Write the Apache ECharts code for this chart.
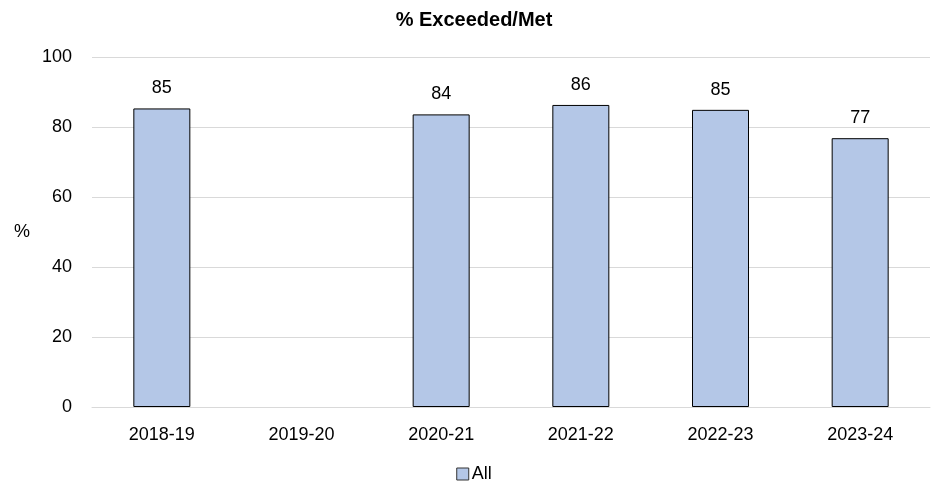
<!DOCTYPE html>
<html>
<head>
<meta charset="utf-8">
<script src="https://cdn.jsdelivr.net/npm/echarts@6/dist/echarts.min.js"></script>
<style>
    html, body { margin: 0; padding: 0; background: #fff; }
    #chart { width: 948px; height: 490px; }
</style>
</head>
<body>
<div id="chart"></div>
<script>
    // school years on the x axis
    const years = ['2018-19', '2019-20', '2020-21', '2021-22', '2022-23', '2023-24'];
    // % exceeded/met, no data for 2019-20
    const allValues = [85.3, null, 83.6, 86.3, 84.9, 76.8];
    const yTicks = [0, 20, 40, 60, 80, 100];

    const font = 'Liberation Sans, Arial, sans-serif';
    const chart = echarts.init(document.getElementById('chart'));
    chart.setOption({
        animation: false,
        title: {
            text: '% Exceeded/Met',
            left: 'center',
            top: 5,
            textStyle: { fontFamily: font, fontSize: 20, fontWeight: 'bold', color: '#000' }
        },
        legend: {
            bottom: 2,
            left: 'center',
            itemWidth: 12,
            itemHeight: 12,
            itemGap: 4,
            icon: 'rect',
            itemStyle: { borderColor: '#333', borderWidth: 1 },
            textStyle: { fontFamily: font, fontSize: 18, color: '#000', padding: [0, 0, 0, -2] },
            data: ['All']
        },
        grid: { left: 92, right: 18, top: 57, bottom: 83 },
        xAxis: {
            type: 'category',
            data: years,
            axisTick: { show: false },
            axisLine: { lineStyle: { color: '#d9d9d9', width: 1 } },
            axisLabel: { fontFamily: font, fontSize: 18, color: '#000', margin: 19 }
        },
        yAxis: {
            type: 'value',
            min: yTicks[0],
            max: yTicks[yTicks.length - 1],
            interval: yTicks[1] - yTicks[0],
            name: '%',
            nameLocation: 'middle',
            nameRotate: 0,
            nameGap: 62,
            nameTextStyle: { fontFamily: font, fontSize: 18, color: '#000' },
            axisLine: { show: false },
            axisTick: { show: false },
            splitLine: { lineStyle: { color: '#d9d9d9', width: 1 } },
            axisLabel: { fontFamily: font, fontSize: 18, color: '#000', margin: 20 }
        },
        series: [
            {
                name: 'All',
                type: 'bar',
                data: allValues,
                barWidth: 57,
                itemStyle: { color: '#b4c7e7', borderColor: '#000', borderWidth: 1 },
                label: {
                    show: true,
                    position: 'top',
                    distance: 11,
                    fontFamily: font,
                    fontSize: 18,
                    color: '#000',
                    formatter: (p) => Math.round(p.value)
                }
            }
        ]
    });
</script>
</body>
</html>
